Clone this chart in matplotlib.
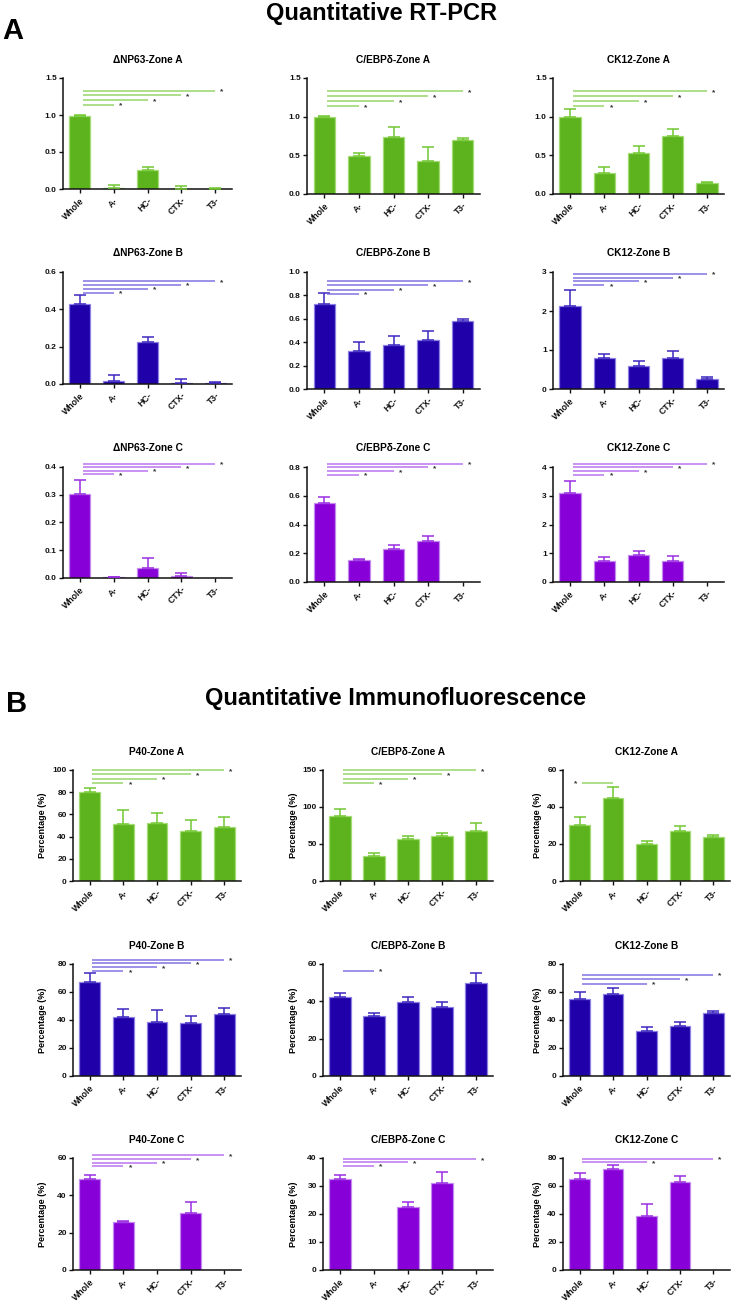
import matplotlib
matplotlib.use('Agg')
import matplotlib.pyplot as plt

plt.rcParams['font.family'] = ['Liberation Sans', 'DejaVu Sans']
plt.rcParams['font.weight'] = 'bold'

W, H = 733, 1301

groups = ['Whole', 'A-', 'HC-', 'CTX-', 'T3-']

# Quantitative RT-PCR values (mean, upper error)
dnp63_a = [0.99, 0.015, 0.26, 0.005, 0.005]
dnp63_a_err = [0.015, 0.04, 0.035, 0.035, 0.01]
cebpd_a = [0.99, 0.497, 0.737, 0.427, 0.698]
cebpd_a_err = [0.02, 0.03, 0.125, 0.18, 0.03]
ck12_a = [0.99, 0.275, 0.528, 0.746, 0.144]
ck12_a_err = [0.113, 0.074, 0.096, 0.091, 0.017]

dnp63_b = [0.427, 0.016, 0.223, 0.006, 0.005]
dnp63_b_err = [0.052, 0.03, 0.027, 0.019, 0.004]
cebpd_b = [0.728, 0.321, 0.379, 0.419, 0.584]
cebpd_b_err = [0.096, 0.078, 0.078, 0.078, 0.017]
ck12_b = [2.13, 0.784, 0.586, 0.784, 0.267]
ck12_b_err = [0.41, 0.104, 0.138, 0.182, 0.052]

dnp63_c = [0.301, 0.002, 0.035, 0.008, 0.0]
dnp63_c_err = [0.053, 0.003, 0.037, 0.01, 0.0]
cebpd_c = [0.548, 0.15, 0.228, 0.285, 0.0]
cebpd_c_err = [0.046, 0.012, 0.031, 0.038, 0.0]
ck12_c = [3.11, 0.72, 0.95, 0.72, 0.0]
ck12_c_err = [0.40, 0.16, 0.14, 0.18, 0.0]

# Quantitative immunofluorescence values (%)
p40_a = [80.3, 51.8, 52.4, 45.2, 48.2]
p40_a_err = [3.7, 11.8, 9.1, 10.0, 9.4]
cebpd_if_a = [88.2, 33.2, 57.3, 60.5, 67.7]
cebpd_if_a_err = [9.5, 4.1, 4.1, 4.0, 10.5]
ck12_if_a = [30.3, 45.0, 20.0, 26.8, 23.6]
ck12_if_a_err = [4.5, 5.8, 1.4, 3.1, 1.3]

p40_b = [66.9, 42.4, 38.3, 37.9, 44.5]
p40_b_err = [6.4, 5.5, 8.5, 4.7, 4.1]
cebpd_if_b = [42.1, 32.1, 39.8, 37.1, 49.6]
cebpd_if_b_err = [2.4, 1.5, 2.3, 2.7, 5.4]
ck12_if_b = [54.8, 58.3, 32.4, 36.0, 45.0]
ck12_if_b_err = [5.2, 4.8, 2.8, 2.6, 1.2]

p40_c = [48.8, 25.5, 0.0, 30.3, 0.0]
p40_c_err = [2.0, 0.8, 0.0, 6.3, 0.0]
cebpd_if_c = [32.6, 0.0, 22.4, 31.1, 0.0]
cebpd_if_c_err = [1.2, 0.0, 1.8, 3.9, 0.0]
ck12_if_c = [64.9, 71.8, 38.5, 62.6, 0.0]
ck12_if_c_err = [4.5, 3.5, 8.6, 4.2, 0.0]

# colours: bar, edge, errorbar, significance line
green = ('#5db31e', '#a3dc74', '#72c832', '#86cf50')
blue = ('#2000a8', '#8a80e6', '#3d28c0', '#6a5ce0')
purple = ('#8700d8', '#c58af0', '#9a2ee2', '#ad5cec')

# column x-extents and row y-extents (pixels)
cols_a = [(63, 232), (307, 480), (553, 724)]
rows_a = [(78, 189, 194), (272, 384, 389), (467, 578, 582)]
cols_b = [(73, 241), (323, 493), (563, 730)]
rows_b = [(770, 881, 881), (964, 1076, 1076), (1158, 1270, 1270)]
title_rows = {'A': [60, 253, 448], 'B': [752, 946, 1140]}
ylabel_x = [47, 298, 542]

all4 = [1, 2, 3, 4]

panels = [
    # title, vals, errs, ymax, step, fmt, colour, sig targets, sig top, sig step, col, row, section
    ('\u0394NP63-Zone A', dnp63_a, dnp63_a_err, 1.5, 0.5, '{:.1f}', green, all4, 0.885, 0.042, 0, 0, 'A'),
    ('C/EBP\u03b4-Zone A', cebpd_a, cebpd_a_err, 1.5, 0.5, '{:.1f}', green, all4, 0.885, 0.042, 1, 0, 'A'),
    ('CK12-Zone A', ck12_a, ck12_a_err, 1.5, 0.5, '{:.1f}', green, all4, 0.885, 0.042, 2, 0, 'A'),
    ('\u0394NP63-Zone B', dnp63_b, dnp63_b_err, 0.6, 0.2, '{:.1f}', blue, all4, 0.92, 0.035, 0, 1, 'A'),
    ('C/EBP\u03b4-Zone B', cebpd_b, cebpd_b_err, 1.0, 0.2, '{:.1f}', blue, all4, 0.92, 0.035, 1, 1, 'A'),
    ('CK12-Zone B', ck12_b, ck12_b_err, 3, 1, '{:.0f}', blue, all4, 0.985, 0.033, 2, 1, 'A'),
    ('\u0394NP63-Zone C', dnp63_c, dnp63_c_err, 0.4, 0.1, '{:.1f}', purple, all4, 1.03, 0.032, 0, 2, 'A'),
    ('C/EBP\u03b4-Zone C', cebpd_c, cebpd_c_err, 0.8, 0.2, '{:.1f}', purple, all4, 1.03, 0.032, 1, 2, 'A'),
    ('CK12-Zone C', ck12_c, ck12_c_err, 4, 1, '{:.0f}', purple, all4, 1.03, 0.032, 2, 2, 'A'),
    ('P40-Zone A', p40_a, p40_a_err, 100, 20, '{:.0f}', green, all4, 1.0, 0.04, 0, 0, 'B'),
    ('C/EBP\u03b4-Zone A', cebpd_if_a, cebpd_if_a_err, 150, 50, '{:.0f}', green, all4, 1.0, 0.04, 1, 0, 'B'),
    ('CK12-Zone A', ck12_if_a, ck12_if_a_err, 60, 20, '{:.0f}', green, [1], 0.88, 0.04, 2, 0, 'B'),
    ('P40-Zone B', p40_b, p40_b_err, 80, 20, '{:.0f}', blue, all4, 1.04, 0.035, 0, 1, 'B'),
    ('C/EBP\u03b4-Zone B', cebpd_if_b, cebpd_if_b_err, 60, 20, '{:.0f}', blue, [1], 0.94, 0.035, 1, 1, 'B'),
    ('CK12-Zone B', ck12_if_b, ck12_if_b_err, 80, 20, '{:.0f}', blue, [2, 3, 4], 0.905, 0.04, 2, 1, 'B'),
    ('P40-Zone C', p40_c, p40_c_err, 60, 20, '{:.0f}', purple, all4, 1.025, 0.033, 0, 2, 'B'),
    ('C/EBP\u03b4-Zone C', cebpd_if_c, cebpd_if_c_err, 40, 10, '{:.0f}', purple, [1, 2, 4], 0.99, 0.03, 1, 2, 'B'),
    ('CK12-Zone C', ck12_if_c, ck12_if_c_err, 80, 20, '{:.0f}', purple, [2, 4], 0.995, 0.03, 2, 2, 'B'),
]

fig = plt.figure(figsize=(W / 100, H / 100), dpi=100)
fig.patch.set_facecolor('white')

# section headers
fig.text(381 / W, 1 - 20 / H, 'Quantitative RT-PCR', ha='center', va='baseline',
         fontsize=17, fontweight='bold')
fig.text(2 / W, 1 - 39 / H, 'A', ha='left', va='baseline', fontsize=21, fontweight='bold')
fig.text(395 / W, 1 - 705 / H, 'Quantitative Immunofluorescence', ha='center', va='baseline',
         fontsize=17, fontweight='bold')
fig.text(6 / W, 1 - 712 / H, 'B', ha='left', va='baseline', fontsize=21, fontweight='bold')

for (title, vals, errs, ymax, step, fmt, colour, sig, sig_top, sig_step,
     ci, ri, sec) in panels:
    cols = cols_a if sec == 'A' else cols_b
    rows = rows_a if sec == 'A' else rows_b
    x0, x1 = cols[ci]
    ytop = rows[ri][0]
    ybot = rows[ri][1] if ci == 0 else rows[ri][2]
    ax = fig.add_axes([x0 / W, 1 - ybot / H, (x1 - x0) / W, (ybot - ytop) / H])

    bar_c, edge_c, err_c, line_c = colour
    xs = list(range(len(groups)))
    ax.bar(xs, vals, width=0.62, color=bar_c, edgecolor=edge_c, linewidth=0.9, zorder=2)
    for x, v, e in zip(xs, vals, errs):
        if e > 0:
            ax.errorbar(x, v, yerr=[[0], [e]], fmt='none', ecolor=err_c,
                        elinewidth=1.1, capsize=4.2, capthick=1.1, zorder=3)

    # significance lines from Whole to each target group
    for k, t in enumerate(sorted(sig, reverse=True)):
        y = (sig_top - k * sig_step) * ymax
        ax.plot([0.08, t], [y, y], color=line_c, lw=1.1, alpha=0.85,
                clip_on=False, zorder=4, solid_capstyle='butt')
        if title == 'CK12-Zone A' and sec == 'B':
            ax.text(-0.12, y, '*', ha='center', va='center', fontsize=6,
                    color='#333333')
        else:
            ax.text(t + 0.2, y - ymax * 0.012, '*', ha='center', va='center',
                    fontsize=6, color='#333333')

    ax.set_xlim(-0.5, 4.5)
    ax.set_ylim(0, ymax)
    ticks = []
    v = 0.0
    while v <= ymax + 1e-9:
        ticks.append(round(v, 6))
        v += step
    ax.set_yticks(ticks)
    ax.set_yticklabels([fmt.format(t) for t in ticks])
    ax.set_xticks(xs)
    ax.set_xticklabels(groups, rotation=45, ha='right', rotation_mode='anchor')

    for s in ['top', 'right']:
        ax.spines[s].set_visible(False)
    for s in ['left', 'bottom']:
        ax.spines[s].set_linewidth(1.1)
        ax.spines[s].set_color('#111111')
    ax.tick_params(axis='both', direction='out', length=3, width=1, labelsize=6,
                   pad=1.5, colors='#111111')
    ax.tick_params(axis='x', labelsize=6.3, pad=2)
    for lab in ax.get_xticklabels() + ax.get_yticklabels():
        lab.set_fontweight('bold')

    # panel title placed in pixels
    title_y = title_rows[sec][ri]
    fig.text((x0 + x1) / 2 / W, 1 - title_y / H, title, ha='center', va='center',
             fontsize=7.3, fontweight='bold')

    if sec == 'B':
        ax.set_ylabel('Percentage (%)', fontsize=6.5, fontweight='bold')
        ax.yaxis.set_label_coords((ylabel_x[ci] - x0) / (x1 - x0), 0.5)

    ax.set_facecolor('none')

fig.savefig('out.png', dpi=100, facecolor='white')
